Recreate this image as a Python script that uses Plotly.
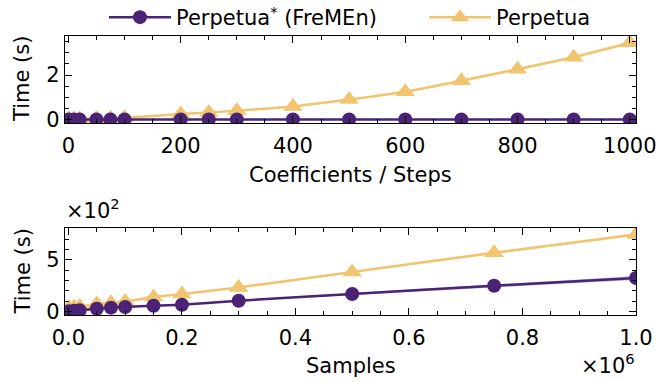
import plotly.graph_objects as go

# ---- data ----
coef_x = [1, 10, 20, 50, 75, 100, 200, 250, 300, 400, 500, 600, 700, 800, 900, 1000]
fremen_coef = [0.01, 0.01, 0.01, 0.01, 0.01, 0.01, 0.01, 0.01, 0.01, 0.01, 0.01, 0.01, 0.01, 0.01, 0.01, 0.01]
fremen_coef_err = [0.01, 0.01, 0.01, 0.01, 0.01, 0.01, 0.01, 0.01, 0.01, 0.01, 0.01, 0.01, 0.01, 0.01, 0.01, 0.01]
perp_coef = [0.03, 0.03, 0.04, 0.05, 0.06, 0.08, 0.25, 0.32, 0.40, 0.59, 0.90, 1.25, 1.74, 2.26, 2.80, 3.44]
perp_coef_err = [0.01, 0.01, 0.01, 0.01, 0.01, 0.01, 0.02, 0.02, 0.02, 0.03, 0.03, 0.04, 0.05, 0.06, 0.07, 0.08]

samples_x = [1000, 10000, 20000, 50000, 75000, 100000, 150000, 200000, 300000, 500000, 750000, 1000000]
fremen_samp = [2, 5, 10, 26, 36, 42, 55, 65, 103, 168, 249, 323]
fremen_samp_err = [1, 1, 1, 2, 2, 3, 4, 5, 7, 10, 15, 20]
perp_samp = [35, 40, 48, 71, 84, 97, 140, 169, 232, 382, 568, 745]
perp_samp_err = [2, 2, 2, 3, 3, 4, 5, 6, 8, 10, 12, 14]

names = ["Perpetua<sup>*</sup> (FreMEn)", "Perpetua"]
PURPLE = "#4A2377"
YELLOW = "#F1C46F"
PURPLE_BAND = "rgba(74,35,119,0.3)"
YELLOW_BAND = "rgba(241,196,111,0.35)"
FONT = "DejaVu Sans"

fig = go.Figure()


def band(x, y, err, color, xa, ya):
    up = [a + b for a, b in zip(y, err)]
    lo = [a - b for a, b in zip(y, err)]
    fig.add_trace(go.Scatter(x=list(x) + list(x)[::-1], y=up + lo[::-1], fill="toself",
                             fillcolor=color, line=dict(width=0), mode="lines",
                             hoverinfo="skip", showlegend=False, xaxis=xa, yaxis=ya))


def series(x, y, color, symbol, size, name, show, rank, xa, ya):
    fig.add_trace(go.Scatter(x=x, y=y, mode="lines+markers", name=name,
                             line=dict(color=color, width=2.5, shape="spline", smoothing=0.4),
                             marker=dict(color=color, size=size, symbol=symbol),
                             showlegend=show, legendrank=rank, xaxis=xa, yaxis=ya))


# top panel (yellow below purple)
band(coef_x, perp_coef, perp_coef_err, YELLOW_BAND, "x", "y")
series(coef_x, perp_coef, YELLOW, "triangle-up", 17, names[1], True, 2, "x", "y")
band(coef_x, fremen_coef, fremen_coef_err, PURPLE_BAND, "x", "y")
series(coef_x, fremen_coef, PURPLE, "circle", 14, names[0], True, 1, "x", "y")

# bottom panel
band(samples_x, perp_samp, perp_samp_err, YELLOW_BAND, "x2", "y2")
series(samples_x, perp_samp, YELLOW, "triangle-up", 17, names[1], False, 2, "x2", "y2")
band(samples_x, fremen_samp, fremen_samp_err, PURPLE_BAND, "x2", "y2")
series(samples_x, fremen_samp, PURPLE, "circle", 14, names[0], False, 1, "x2", "y2")

W, H = 659, 382
xd = [65 / W, 636 / W]
y1d = [(H - 123) / H, (H - 35.5) / H]
y2d = [(H - 315) / H, (H - 228) / H]

axcommon = dict(showline=True, linecolor="black", linewidth=1.3, mirror="allticks",
                ticks="inside", ticklen=7, tickwidth=1.2, tickcolor="black",
                showgrid=False, zeroline=False, automargin=False,
                tickfont=dict(family=FONT, size=21, color="black"))
xtick = dict(ticklabelstandoff=4)


def pxx(px):
    return px / W


def pxy(py):
    return (H - py) / H


fig.update_layout(
    width=W, height=H, margin=dict(l=0, r=0, t=0, b=0, autoexpand=False),
    paper_bgcolor="white", plot_bgcolor="white",
    font=dict(family=FONT, size=21, color="black"),
    showlegend=True,
    legend=dict(orientation="h", x=pxx(104), xanchor="left", y=pxy(-3), yanchor="top",
                font=dict(family=FONT, size=21), bgcolor="rgba(0,0,0,0)",
                itemwidth=62, entrywidth=243, entrywidthmode="pixels", traceorder="normal"),
    xaxis=dict(domain=xd, anchor="y", range=[-6, 1011], tickvals=[0, 200, 400, 600, 800, 1000],
               minor=dict(ticks="inside", ticklen=4, dtick=50, tick0=0, tickcolor="black", tickwidth=1),
               **axcommon, **xtick),
    yaxis=dict(domain=y1d, anchor="x", range=[-0.15, 3.77], tickvals=[0, 2],
               minor=dict(ticks="inside", ticklen=4, dtick=0.5, tick0=0, tickcolor="black", tickwidth=1),
               **axcommon),
    xaxis2=dict(domain=xd, anchor="y2", range=[-6000, 1000000],
                tickvals=[0, 200000, 400000, 600000, 800000, 1000000],
                ticktext=["0.0", "0.2", "0.4", "0.6", "0.8", "1.0"],
                minor=dict(ticks="inside", ticklen=4, dtick=50000, tick0=0, tickcolor="black", tickwidth=1),
                **axcommon, **xtick),
    yaxis2=dict(domain=y2d, anchor="x2", range=[-35, 808], tickvals=[0, 500], ticktext=["0", "5"],
                minor=dict(ticks="inside", ticklen=4, dtick=100, tick0=0, tickcolor="black", tickwidth=1),
                **axcommon),
)

ann = [
    dict(text="Coefficients / Steps", x=pxx(350.5), y=pxy(175), xanchor="center", yanchor="middle"),
    dict(text="Samples", x=pxx(350.5), y=pxy(366), xanchor="center", yanchor="middle"),
    dict(text="Time (s)", x=pxx(22), y=pxy(79), xanchor="center", yanchor="middle", textangle=-90),
    dict(text="Time (s)", x=pxx(22), y=pxy(271.5), xanchor="center", yanchor="middle", textangle=-90),
    dict(text="×10<sup>2</sup>", x=pxx(64), y=pxy(225), xanchor="left", yanchor="bottom"),
    dict(text="×10<sup>6</sup>", x=pxx(637), y=pxy(348), xanchor="right", yanchor="top"),
]
for a in ann:
    fig.add_annotation(xref="paper", yref="paper", showarrow=False,
                       font=dict(family=FONT, size=21, color="black"), **a)

fig.write_html("out.html")
